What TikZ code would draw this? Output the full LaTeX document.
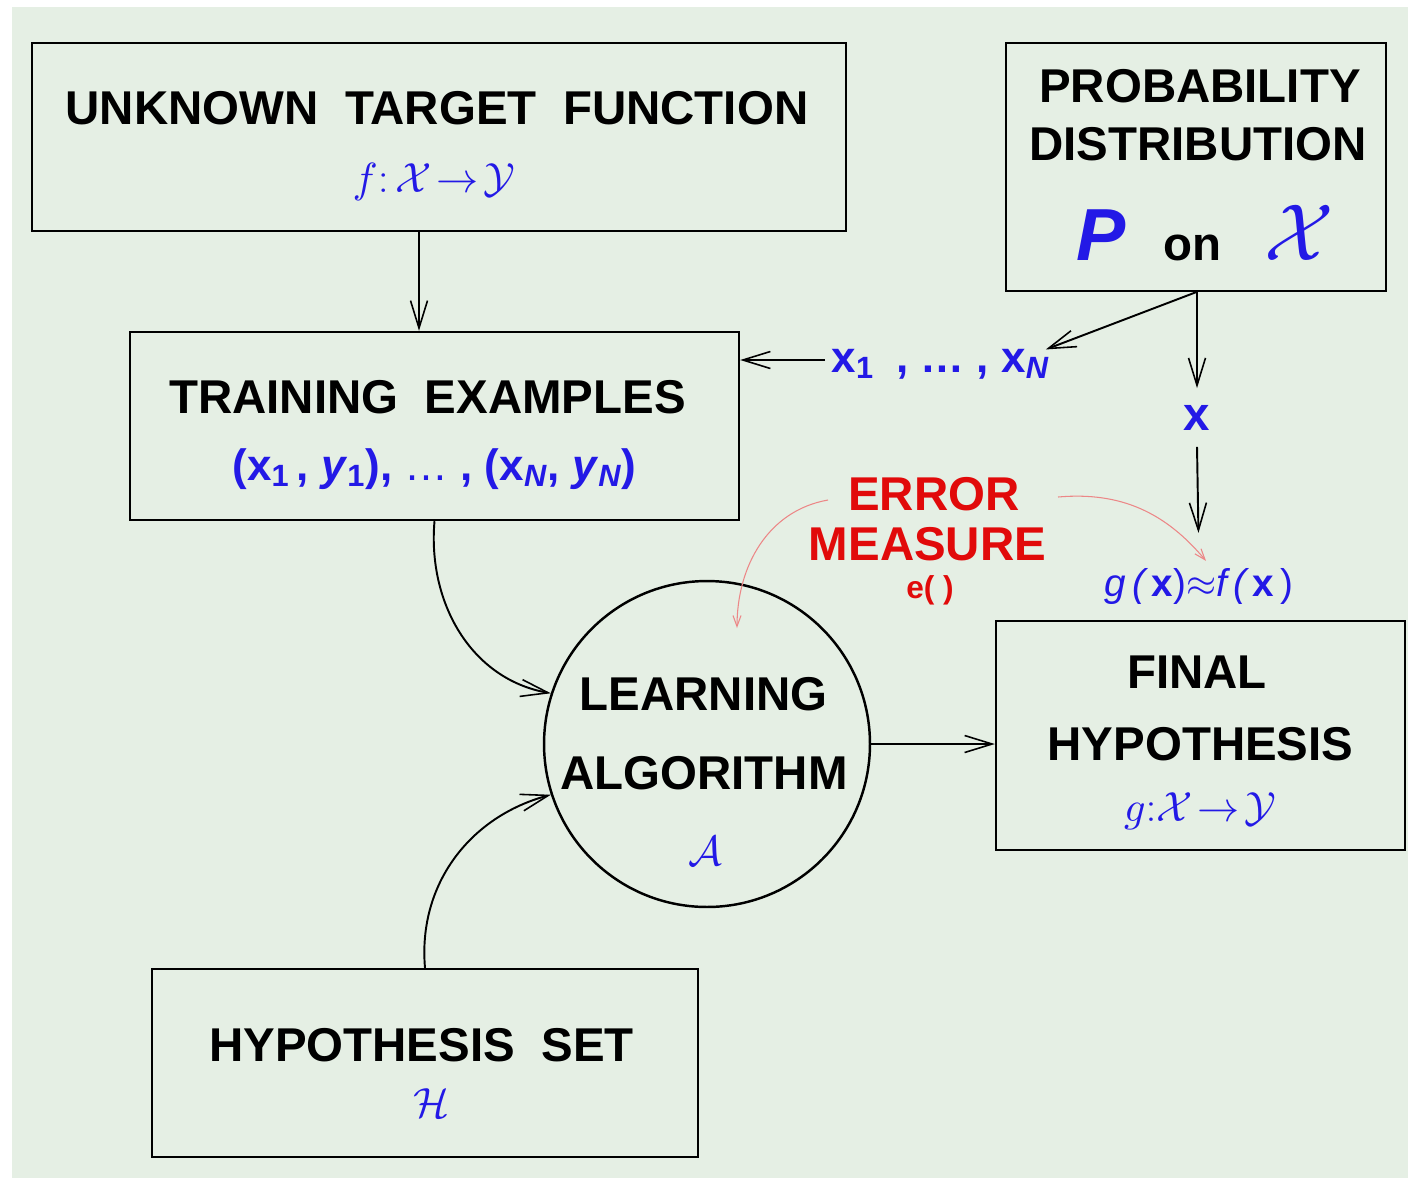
\documentclass[tikz,border=0pt]{standalone}
\usepackage{fontspec}
\setmainfont{Liberation Sans}
\DeclareFontShape{OML}{cmm}{m}{it}{<->cmmi10}{}
\DeclareFontShape{OMS}{cmsy}{m}{n}{<->cmsy10}{}
\usetikzlibrary{arrows.meta,positioning}
\definecolor{bgcol}{RGB}{229,239,228}
\definecolor{fblue}{RGB}{35,25,230}
\definecolor{fred}{RGB}{225,10,10}
\definecolor{lred}{RGB}{236,135,135}
\newcommand{\wgap}{\hspace{.56em}}
\newcommand{\mth}{\fontsize{24}{30}\selectfont}
\tikzset{
 box/.style={draw,line width=1.4pt,inner sep=0pt},
 txt/.style={anchor=base,inner sep=0pt},
 arr/.style={line width=1.1pt,-{Straight Barb[length=0.55cm,width=0.34cm,line width=0.9pt]}},
 earr/.style={lred,line width=0.6pt,-{Straight Barb[length=0.22cm,width=0.16cm]}},
}
\begin{document}
\begin{tikzpicture}[x=0.02cm,y=-0.02cm,font=\fontsize{27}{33}\selectfont\bfseries]
\useasboundingbox (0,0) rectangle (1408,1180);
\fill[bgcol] (12,7) rectangle (1408,1178);
% boxes
\node[box,minimum width=16.28cm,minimum height=3.76cm] (target) at (439,137) {};
\node[box,minimum width=7.6cm,minimum height=4.96cm] (prob) at (1196,167) {};
\node[box,minimum width=12.18cm,minimum height=3.76cm] (train) at (434.5,426) {};
\node[box,minimum width=8.18cm,minimum height=4.58cm] (final) at (1200.5,735.5) {};
\node[box,minimum width=10.92cm,minimum height=3.76cm] (hset) at (425,1063) {};
\node[draw,circle,line width=1.4pt,minimum size=6.52cm] (learn) at (707,744) {};
% texts
\node[txt] (target1) at (437,124) {UNKNOWN\wgap TARGET\wgap FUNCTION};
\node[txt,text=fblue] (target2) at (434,192) {\mth$f\colon\mathcal{X}\!\to\!\mathcal{Y}$};
\node[txt] (prob1) at (1200,102) {PROBABILITY};
\node[txt] (prob2) at (1198,160) {DISTRIBUTION};
\node[txt] (prob3) at (1205,260) {{\fontsize{42}{33}\selectfont\color{fblue}\itshape P}\hspace{0.76cm}on\hspace{0.85cm}{\fontsize{46}{33}\selectfont\color{fblue}$\mathcal{X}$}};
\node[txt] (train1) at (427.5,413) {TRAINING\wgap EXAMPLES};
\node[txt,text=fblue] (train2) at (434.5,480) {\fontsize{25}{30}\selectfont(x\textsubscript{1}\,, \textit{y}\textsubscript{1}), {\mdseries\dots} , (x\textsubscript{\textit{N}}, \textit{y}\textsubscript{\textit{N}})};
\node[txt] (final1) at (1197,688) {FINAL};
\node[txt] (final2) at (1200.5,760) {HYPOTHESIS};
\node[txt,text=fblue] (final3) at (1200,821) {\mth$g{:}\mathcal{X}\!\to\!\mathcal{Y}$};
\node[txt] (learn1) at (703.5,710) {LEARNING};
\node[txt] (learn2) at (704,789) {ALGORITHM};
\node[txt,text=fblue] (learn3) at (705,865) {\mth$\mathcal{A}$};
\node[txt] (hset1) at (421.5,1061) {HYPOTHESIS\wgap SET};
\node[txt,text=fblue] (hset2) at (431.5,1117) {\mth$\mathcal{H}$};
% labels
\node[txt,text=fblue,inner sep=0.12cm] (xs) at (940.5,372)
 {\fontsize{25}{30}\selectfont x\textsubscript{1}\hspace{0.45cm}, \dots\ , x\textsubscript{\textit{N}}};
\node[txt,text=fblue,inner sep=0.33cm] (xpt) at (1197,430) {x};
\node[txt,text=fblue,inner sep=1pt] (gfx) at (1199,596)
 {\fontsize{22}{33}\selectfont\mdseries\itshape g\,(\,\upshape\bfseries x\mdseries)$\approx$\itshape f\,(\,\upshape\bfseries x\mdseries\,)};
\node[txt,text=fred] (err1) at (934,510) {ERROR};
\node[txt,text=fred] (err2) at (927.5,560) {MEASURE};
\node[txt,text=fred] (err3) at (930,598) {\fontsize{18}{33}\selectfont e( )};
\coordinate (errl) at (828,500);
\coordinate (errr) at (1058,497);
% connectors
\draw[arr] ([xshift=-0.4cm]target.south) -- ([xshift=-0.4cm]target.south |- train.north);
\draw[arr] (prob.south) -- ([shift={(-0.2cm,-0.14cm)}]xs.north east);
\draw[arr] ([yshift=0.24cm]xs.base west) -- ([yshift=0.24cm]xs.base west -| train.east);
\draw[arr] (prob.south -| xpt.north) -- (xpt.north);
\draw[arr,shorten >=0.66cm] (xpt.south) -- (gfx.north);
\draw[arr] (train.south) to[out=-95,in=170] (learn.162);
\draw[arr] (hset.north) to[out=95,in=195] (learn.198);
\draw[arr] (learn.east) -- (learn.east -| final.west);
\draw[earr] (errl) to[out=190,in=90] ([shift={(0.6cm,2.32cm)}]learn.center);
\draw[earr] (errr) to[out=5,in=130] ([shift={(0.14cm,0.1cm)}]gfx.north);
\end{tikzpicture}
\end{document}
